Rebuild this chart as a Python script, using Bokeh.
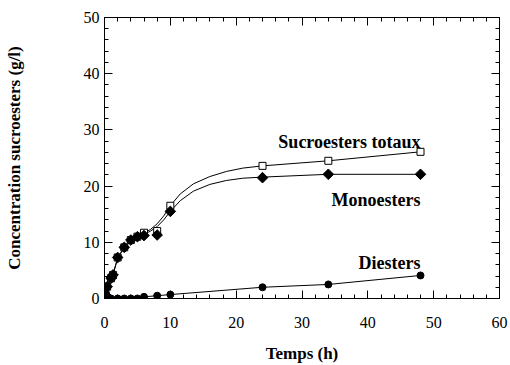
import numpy as np
from bokeh.plotting import figure
from bokeh.models import LinearAxis, Range1d, SingleIntervalTicker, CustomLabelingPolicy
from bokeh.core.properties import value
from bokeh.embed import file_html
from bokeh.resources import INLINE

# Measured points (h, g/l)
time_mono = [0, 0.2, 0.4, 1, 1.3, 2, 3, 4, 5, 6, 8, 10, 24, 34, 48]
mono = [0, 0.6, 2.1, 3.6, 4.2, 7.3, 9.1, 10.4, 11.0, 11.2, 11.3, 15.5, 21.5, 22.1, 22.1]

time_total = [0, 0.2, 0.4, 1, 1.3, 2, 3, 4, 5, 6, 8, 10, 24, 34, 48]
total = [0, 0.6, 2.1, 3.6, 4.2, 7.3, 9.1, 10.4, 11.0, 11.7, 12.0, 16.5, 23.6, 24.5, 26.1]

time_di = [0, 0.2, 0.4, 1, 2, 3, 4, 5, 6, 8, 10, 24, 34, 48]
di = [0, 0, 0, 0, 0, 0, 0, 0, 0.3, 0.5, 0.7, 2.0, 2.5, 4.1]

# Fitted curves as drawn in the picture
curve_t = [0, 0.2, 0.4, 1, 1.3, 2, 3, 4, 5, 6, 7, 8, 9, 10, 11.5, 13.5, 16, 18.5, 21, 24, 34, 48]
curve_mono = [0, 0.6, 2.1, 3.6, 4.3, 7.2, 9.1, 10.3, 10.9, 11.4, 12.0, 12.8, 14.0, 15.5,
              17.4, 19.1, 20.3, 21.0, 21.4, 21.6, 22.1, 22.1]
curve_total = [0, 0.6, 2.1, 3.6, 4.3, 7.2, 9.1, 10.3, 11.0, 11.6, 12.3, 13.3, 14.7, 16.5,
               18.6, 20.4, 21.7, 22.6, 23.2, 23.6, 24.5, 26.1]

series_labels = ["Sucroesters totaux", "Monoesters", "Diesters"]
label_y = [27.9, 17.5, 6.25]
label_x = [48, 48, 48]

SERIF = "Liberation Serif"

p = figure(frame_width=395, frame_height=281,
           x_range=Range1d(0, 60), y_range=Range1d(0, 50),
           output_backend="svg", toolbar_location=None,
           min_border_left=104, min_border_right=11, min_border_top=17, min_border_bottom=67,
           background_fill_color="white", border_fill_color="white")
p.grid.visible = False
p.outline_line_color = "black"
p.outline_line_width = 1

no_labels = CustomLabelingPolicy(code="return new Set()")


def style_axis(ax, show_labels=True):
    ax.major_tick_in = 8
    ax.major_tick_out = 0
    ax.minor_tick_in = 4
    ax.minor_tick_out = 0
    ax.axis_line_color = "black"
    ax.major_tick_line_color = "black"
    ax.minor_tick_line_color = "black"
    if show_labels:
        ax.major_label_text_font = SERIF
        ax.major_label_text_font_size = "16px"
        ax.major_label_text_color = "black"
        ax.axis_label_text_font = SERIF
        ax.axis_label_text_font_style = "bold"
        ax.axis_label_text_color = "black"
    else:
        ax.major_label_policy = no_labels
        ax.major_label_text_font_size = "1px"
        ax.major_label_standoff = 0


p.xaxis.ticker = SingleIntervalTicker(interval=10, num_minor_ticks=5)
p.yaxis.ticker = SingleIntervalTicker(interval=10, num_minor_ticks=5)
style_axis(p.xaxis[0])
style_axis(p.yaxis[0])
p.xaxis.axis_label = "Temps (h)"
p.xaxis.axis_label_text_font_size = "17px"
p.xaxis.major_label_standoff = 18
p.xaxis.axis_label_standoff = 13
p.yaxis.axis_label = "Concentration sucroesters (g/l)"
p.yaxis.axis_label_text_font_size = "17px"
p.yaxis.major_label_standoff = 5
p.yaxis.axis_label_standoff = 57

top = LinearAxis(ticker=SingleIntervalTicker(interval=10, num_minor_ticks=5))
style_axis(top, show_labels=False)
p.add_layout(top, "above")
right = LinearAxis(ticker=SingleIntervalTicker(interval=10, num_minor_ticks=5))
style_axis(right, show_labels=False)
p.add_layout(right, "right")

# curves
p.line(curve_t, curve_total, line_color="black", line_width=1)
p.line(curve_t, curve_mono, line_color="black", line_width=1)
p.line(time_di, di, line_color="black", line_width=1)

# markers
p.scatter(time_total, total, marker="square", size=7, fill_color="white",
          line_color="black", line_width=1)
p.scatter(time_di, di, marker="circle", size=7, fill_color="black", line_color="black")
p.scatter(time_mono, mono, marker="square", angle=np.pi / 4, size=7.5,
          fill_color="black", line_color="black")

p.text(x=label_x, y=label_y, text=series_labels, text_align="right",
       text_baseline="alphabetic", text_font=value(SERIF), text_font_style="bold",
       text_font_size="18px", text_color="black")

open("out.html", "w").write(file_html(p, INLINE))
